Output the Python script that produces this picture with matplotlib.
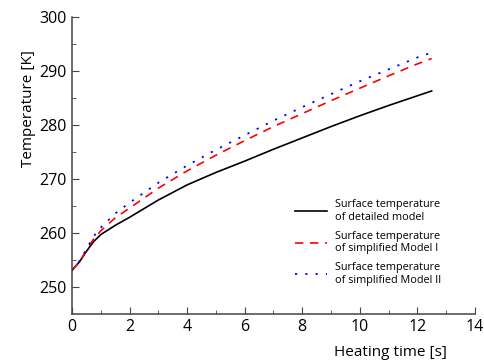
import numpy as np
import matplotlib
matplotlib.use('Agg')
import matplotlib.pyplot as plt

plt.rcParams['font.family'] = ['Open Sans', 'DejaVu Sans']

# heating time [s]
time_s = [0, 0.25, 0.5, 0.75, 1.0, 1.5, 2, 3, 4, 5, 6, 7, 8, 9, 10, 11, 12, 12.5]
# surface temperatures [K]
t_detailed = [253.1, 254.6, 256.6, 258.4, 259.7, 261.4, 262.9, 266.1, 268.9,
              271.2, 273.3, 275.5, 277.6, 279.7, 281.7, 283.6, 285.4, 286.3]
t_model_1 = [253.1, 254.6, 256.8, 258.9, 260.4, 262.8, 264.6, 268.3, 271.5,
             274.4, 277.1, 279.7, 282.1, 284.5, 286.8, 289.1, 291.3, 292.3]
t_model_2 = [253.1, 254.7, 257.0, 259.4, 261.0, 263.6, 265.6, 269.3, 272.5,
             275.4, 278.1, 280.8, 283.3, 285.7, 288.1, 290.3, 292.5, 293.4]

labels = ['Surface temperature\nof detailed model',
          'Surface temperature\nof simplified Model I',
          'Surface temperature\nof simplified Model II']

fig = plt.figure(figsize=(4.84, 3.62), dpi=100)
ax = fig.add_axes([0.149, 0.133, 0.832, 0.820])

ax.plot(time_s, t_detailed, color='black', lw=1.2, label=labels[0])
ax.plot(time_s, t_model_1, color='red', lw=1.2, ls=(0, (5, 4)), label=labels[1])
ax.plot(time_s, t_model_2, color='blue', lw=1.3, ls=(0, (1.2, 4.5)), label=labels[2])

ax.set_xlim(0, 14)
ax.set_ylim(245, 300)
ax.set_xticks(np.arange(0, 15, 2))
ax.set_xticks(np.arange(1, 14, 2), minor=True)
ax.set_yticks(np.arange(250, 301, 10))
ax.set_yticks(np.arange(255, 300, 10), minor=True)
ax.tick_params(which='both', direction='in', color='#444444', labelsize=11.5, pad=4)
ax.tick_params(which='major', length=5)
ax.tick_params(which='minor', length=3)
ax.spines[['top', 'right']].set_visible(False)
for s in ['left', 'bottom']:
    ax.spines[s].set_color('#444444')
    ax.spines[s].set_linewidth(1.1)

ax.set_ylabel('Temperature [K]', fontsize=11)
ax.yaxis.set_label_coords(-0.09, 0.69)
ax.set_xlabel('Heating time [s]', fontsize=11, ha='right')
ax.xaxis.set_label_coords(0.93, -0.105)

ax.legend(loc='upper left', bbox_to_anchor=(0.53, 0.42), frameon=False,
          fontsize=7.8, handlelength=2.9, handletextpad=0.8, labelspacing=0.75)

fig.savefig('out.png', dpi=100, facecolor='white')
